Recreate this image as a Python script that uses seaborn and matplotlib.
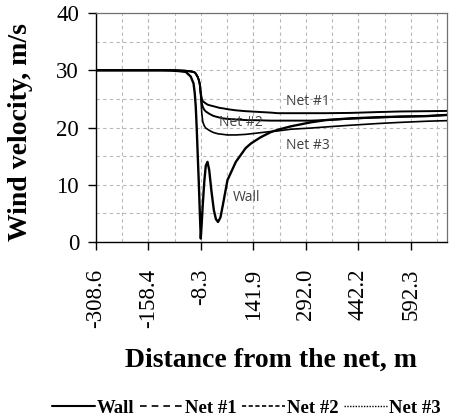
import matplotlib
matplotlib.use("Agg")
import matplotlib.pyplot as plt
from matplotlib.lines import Line2D
from matplotlib.ticker import FixedLocator, MultipleLocator
import seaborn as sns
import pandas as pd

# ---- data ----
distance = [-308.6, -200, -120, -94, -70, -51, -37, -29, -25.5, -22.6, -19.7, -16.9, -14, -11.2,
            -8.3, -5.4, -2.6, 1.7, 6, 11, 16, 22, 29, 35, 41, 48, 55, 68, 92, 120, 135, 163,
            192, 212, 249, 306, 350, 421, 500, 564, 640, 698]
wall = [30.0, 30.0, 30.0, 29.95, 29.85, 29.7, 28.9, 27.7, 26.0, 23.6, 19.6, 15.0, 10.5, 5.5,
        0.6, 3.5, 6.5, 10.5, 13.3, 14.0, 12.5, 9.0, 5.6, 4.0, 3.5, 4.3, 6.5, 10.8, 14.0, 16.4, 17.2, 18.3,
        19.2, 19.6, 20.2, 20.9, 21.3, 21.6, 21.8, 21.9, 22.0, 22.2]
net1 = [30.0, 30.0, 30.0, 30.0, 29.95, 29.9, 29.8, 29.7, 29.6, 29.4, 29.1, 28.8, 28.3, 27.6,
        26.0, 25.0, 24.6, 24.4, 24.2, 24.0, 23.9, 23.8, 23.7, 23.6, 23.5, 23.4, 23.35, 23.2, 23.0, 22.85, 22.8, 22.7,
        22.6, 22.5, 22.5, 22.5, 22.5, 22.55, 22.7, 22.8, 22.85, 22.9]
net2 = [30.0, 30.0, 30.0, 30.0, 29.95, 29.9, 29.8, 29.7, 29.6, 29.4, 29.1, 28.8, 28.3, 27.6,
        26.0, 24.3, 23.6, 23.1, 22.8, 22.6, 22.4, 22.2, 22.0, 21.9, 21.8, 21.7, 21.6, 21.5, 21.4, 21.3, 21.3, 21.25,
        21.2, 21.2, 21.2, 21.2, 21.3, 21.55, 21.75, 21.9, 22.0, 22.2]
net3 = [30.0, 30.0, 30.0, 30.0, 29.95, 29.9, 29.8, 29.7, 29.6, 29.4, 29.1, 28.8, 28.3, 27.6,
        25.4, 22.5, 21.0, 20.3, 19.9, 19.7, 19.5, 19.3, 19.1, 19.0, 18.9, 18.85, 18.8, 18.7, 18.7, 18.8, 18.9, 19.1,
        19.3, 19.4, 19.7, 19.9, 20.1, 20.4, 20.7, 20.9, 21.1, 21.2]
series_names = ["Wall", "Net #1", "Net #2", "Net #3"]
x_tick_labels = ["-308.6", "-158.4", "-8.3", "141.9", "292.0", "442.2", "592.3"]
y_ticks = [0, 10, 20, 30, 40]

df = pd.DataFrame({"distance": distance * 4,
                   "velocity": wall + net1 + net2 + net3,
                   "series": sum([[n] * len(distance) for n in series_names], [])})

sns.set_style("white")
plt.rcParams["font.family"] = ["Liberation Serif", "DejaVu Serif"]
plt.rcParams["text.color"] = "black"
plt.rcParams["axes.labelcolor"] = "black"
plt.rcParams["xtick.color"] = "black"
plt.rcParams["ytick.color"] = "black"

fig = plt.figure(figsize=(4.56, 4.19), dpi=100)
ax = fig.add_axes([0.21, 0.4224, 0.77, 0.5466])

widths = {"Wall": 1.7, "Net #1": 1.4, "Net #2": 1.4, "Net #3": 1.2}
for name in series_names:
    sub = df[df["series"] == name]
    sns.lineplot(data=sub, x="distance", y="velocity", ax=ax, color="black",
                 linewidth=widths[name], legend=False, zorder=3)

ax.set_xlim(-308.6, 695.5)
ax.set_ylim(0, 40)
ax.xaxis.set_major_locator(FixedLocator([float(v) for v in x_tick_labels]))
ax.set_xticklabels(x_tick_labels, rotation=90, family=["Liberation Serif"])
ax.xaxis.set_minor_locator(FixedLocator([-308.6 + 75.075 * k for k in range(14)]))
ax.set_yticks(y_ticks)
ax.set_yticklabels([str(v) for v in y_ticks], family=["Liberation Serif"])
ax.yaxis.set_minor_locator(MultipleLocator(5))

ax.grid(which="both", color="#b8b8b8", linestyle=(0, (3, 3)), linewidth=0.8, zorder=0)
ax.set_axisbelow(True)

for s in ["left", "bottom"]:
    ax.spines[s].set_color("black")
    ax.spines[s].set_linewidth(1.0)
for s in ["top", "right"]:
    ax.spines[s].set_color("#707070")
    ax.spines[s].set_linewidth(0.9)

ax.tick_params(axis="x", which="major", direction="out", length=6, width=1, pad=13,
               labelsize=16.5, bottom=True, colors="black")
ax.tick_params(axis="y", which="major", direction="out", length=6, width=1, pad=6,
               labelsize=16.5, left=True, colors="black")
ax.tick_params(which="minor", length=0)

ax.set_xlabel("Distance from the net, m", fontsize=20, fontweight="bold")
ax.xaxis.label.set_va("center")
ax.xaxis.set_label_coords(0.5, -0.515)
ax.set_ylabel("Wind velocity, m/s", fontsize=20, fontweight="bold")
ax.yaxis.label.set_va("center")
ax.yaxis.set_label_coords(-0.213, 0.48)

ann_kw = dict(fontsize=10, color="#404040", family=["Open Sans", "DejaVu Sans"],
              ha="center", va="center", zorder=4)
ax.text(298.6, 24.5, "Net #1", **ann_kw)
ax.text(105.5, 20.8, "Net #2", **ann_kw)
ax.text(298.6, 16.9, "Net #3", **ann_kw)
ax.text(124, 7.8, "Wall", **ann_kw)

handles = [Line2D([], [], color="black", lw=1.5, ls="-"),
           Line2D([], [], color="black", lw=1.2, ls=(0, (4, 3))),
           Line2D([], [], color="black", lw=1.2, ls=(0, (2.5, 1.5))),
           Line2D([], [], color="black", lw=1.0, ls=(0, (1, 1)))]
fig.legend(handles, series_names, loc="lower center", bbox_to_anchor=(0.54, -0.035),
           ncol=4, frameon=False, handlelength=2.3, handletextpad=0.1, columnspacing=0.3,
           prop={"family": ["Liberation Serif"], "weight": "bold", "size": 13.5})

fig.savefig("out.png", dpi=100)
